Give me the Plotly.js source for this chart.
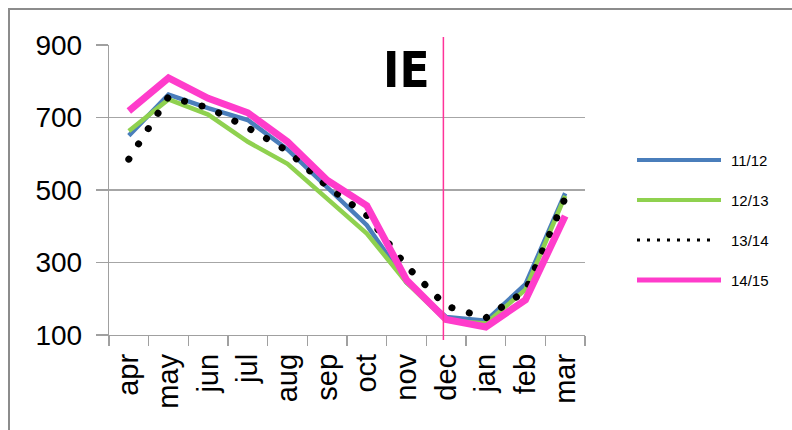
<!DOCTYPE html>
<html>
<head>
<meta charset="utf-8">
<script src="https://cdn.plot.ly/plotly-3.0.1.min.js"></script>
<style>
  html, body { margin: 0; padding: 0; background: #ffffff; }
  #wrap { position: relative; width: 792px; height: 430px; overflow: hidden; background: #fff; }
  #frame { position: absolute; left: 8px; top: 8px; width: 900px; height: 600px; border: 2px solid #8c8c8c; box-sizing: border-box; }
  #chart { position: absolute; left: 0; top: 0; width: 792px; height: 430px; }
</style>
</head>
<body>
<div id="wrap">
  <div id="frame"></div>
  <div id="chart"></div>
</div>
<script>
// ---- data ----
var months = ['apr', 'may', 'jun', 'jul', 'aug', 'sep', 'oct', 'nov', 'dec', 'jan', 'feb', 'mar'];
var season1112 = [650, 763, 726, 693, 612, 508, 403, 245, 150, 139, 240, 491];
var season1213 = [663, 750, 708, 633, 572, 477, 380, 245, 140, 132, 225, 484];
var season1314 = [585, 757, 727, 672, 608, 510, 430, 290, 180, 147, 222, 478];
var season1415 = [718, 809, 753, 713, 633, 527, 457, 252, 143, 122, 197, 428];
var seriesNames = ['11/12', '12/13', '13/14', '14/15'];
var yTicks = [100, 300, 500, 700, 900];
var chartTitle = 'IE';
var dividerMonth = 'dec';

// ---- layout helpers ----
var W = 792, H = 430;
var M = {l: 109, r: 207, t: 45, b: 95};
var plotW = W - M.l - M.r, plotH = H - M.t - M.b;
function px(x) { return (x - M.l) / plotW; }
function py(y) { return (H - M.b - y) / plotH; }

var colors = ['#4a7ebb', '#8fd14f', '#000000', '#ff3ccb'];
var widths = [4.5, 4.5, 7, 7];
var values = [season1112, season1213, season1314, season1415];

var traces = values.map(function (v, i) {
  return {
    type: 'scatter', mode: 'lines',
    x: months, y: v, name: seriesNames[i],
    line: {color: colors[i], width: widths[i], dash: i === 2 ? '6px,12px' : 'solid'},
    showlegend: false, hoverinfo: 'skip'
  };
});

var xFont = {family: 'Liberation Sans, Arial, sans-serif', size: 29, color: '#000'};
var yFont = {family: 'Liberation Sans, Arial, sans-serif', size: 28, color: '#000'};

var shapes = [{
  type: 'line', xref: 'x', yref: 'paper',
  x0: months.indexOf(dividerMonth) - 0.07, x1: months.indexOf(dividerMonth) - 0.07,
  y0: py(340), y1: py(37),
  line: {color: '#ff3399', width: 1.5}
}];
var annotations = [{
  xref: 'paper', yref: 'paper', x: px(406), y: py(71),
  text: '<b>' + chartTitle + '</b>', showarrow: false,
  xanchor: 'center', yanchor: 'middle',
  font: {family: 'Liberation Sans Narrow, DejaVu Sans Condensed, Arial Narrow, sans-serif', size: 49, color: '#000'}
}];

// custom legend (long sample lines like the original)
var legendY = [160, 200, 240, 280];
var legendWidths = [4, 4, 3, 5];
seriesNames.forEach(function (n, i) {
  shapes.push({
    type: 'line', xref: 'paper', yref: 'paper',
    x0: px(637), x1: px(i === 2 ? 716 : 721), y0: py(legendY[i]), y1: py(legendY[i]),
    line: {color: colors[i], width: legendWidths[i], dash: i === 2 ? '3px,7px' : 'solid'}
  });
  annotations.push({
    xref: 'paper', yref: 'paper', x: px(729), y: py(legendY[i]),
    text: n, showarrow: false, xanchor: 'left', yanchor: 'middle',
    font: {family: 'Liberation Sans, Arial, sans-serif', size: 15, color: '#000'}
  });
});

var layout = {
  width: W, height: H,
  margin: M,
  paper_bgcolor: 'rgba(0,0,0,0)',
  plot_bgcolor: 'rgba(0,0,0,0)',
  showlegend: false,
  xaxis: {
    type: 'category', categoryorder: 'array', categoryarray: months,
    range: [-0.5, months.length - 0.5],
    tickson: 'boundaries', ticks: 'outside', ticklen: 10, tickcolor: '#a0a0a0', tickwidth: 1.3,
    showgrid: false, showline: true, linecolor: '#a0a0a0', linewidth: 1.3,
    tickangle: -90, tickfont: xFont, zeroline: false, ticklabelstandoff: 6
  },
  yaxis: {
    range: [100, 900], tickvals: yTicks, ticktext: yTicks.map(String),
    ticks: 'outside', ticklen: 12, tickcolor: '#a0a0a0', tickwidth: 1.3,
    showgrid: true, gridcolor: '#a6a6a6', gridwidth: 1.3,
    showline: true, linecolor: '#a0a0a0', linewidth: 1.3,
    tickfont: yFont, zeroline: false, ticklabelstandoff: 8
  },
  shapes: shapes,
  annotations: annotations
};

Plotly.newPlot('chart', traces, layout, {staticPlot: true, displayModeBar: false}).then(function () {
  var tr = document.querySelectorAll('#chart .scatterlayer .trace');
  if (tr[2]) {
    var p = tr[2].querySelector('path.js-line');
    if (p) {
      p.style.strokeLinecap = 'round';
      p.style.strokeDasharray = '0.1px,18px';
    }
  }
});
</script>
</body>
</html>
